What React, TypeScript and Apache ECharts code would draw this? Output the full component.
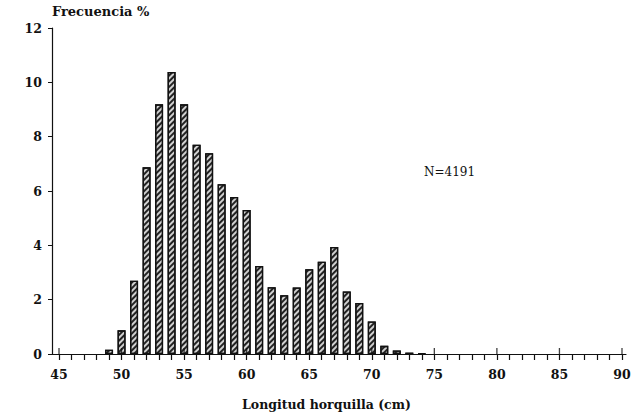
import React, { useEffect, useRef } from "react";
import * as echarts from "echarts";

const lengths = [49, 50, 51, 52, 53, 54, 55, 56, 57, 58, 59, 60, 61, 62, 63, 64, 65, 66, 67, 68, 69, 70, 71, 72, 73, 74];
const freq = [0.16, 0.87, 2.7, 6.87, 9.19, 10.38, 9.19, 7.7, 7.39, 6.25, 5.78, 5.3, 3.24, 2.46, 2.16, 2.45, 3.12, 3.4, 3.94, 2.3, 1.88, 1.2, 0.3, 0.13, 0.05, 0.02];
const xMajor = [45, 50, 55, 60, 65, 70, 75, 80, 85, 90];
const xMinor = Array.from({ length: 46 }, (_, i) => 45 + i);
const yTicks = [0, 2, 4, 6, 8, 10, 12];

const FONT = "DejaVu Serif";

export default function App() {
  const ref = useRef<HTMLDivElement>(null);
  useEffect(() => {
    const chart = echarts.init(ref.current!, null, { renderer: "svg" });
    chart.setOption({
      animation: false,
      backgroundColor: "#fff",
      grid: { left: 52, right: 14, top: 28, bottom: 62 },
      graphic: [
        {
          type: "text",
          left: 52,
          top: 5,
          style: { text: "Frecuencia %", font: `bold 13px "${FONT}"`, fill: "#111" },
        },
        {
          type: "text",
          left: 424,
          top: 166,
          style: { text: "N=4191", font: `12px "${FONT}"`, fill: "#111" },
        },
        {
          type: "text",
          left: 242,
          top: 398,
          style: { text: "Longitud horquilla (cm)", font: `bold 12.5px "${FONT}"`, fill: "#111" },
        },
      ],
      xAxis: {
        type: "value",
        min: 44.44,
        max: 90.32,
        axisLine: { show: true, lineStyle: { color: "#111", width: 1.2 } },
        axisTick: { show: true, customValues: xMinor, length: 6, inside: false, lineStyle: { color: "#111", width: 1.2 } },
        axisLabel: {
          customValues: xMajor,
          fontFamily: FONT,
          fontWeight: "bold",
          fontSize: 12.5,
          color: "#111",
          margin: 14,
        },
        splitLine: { show: false },
      },
      yAxis: {
        type: "value",
        min: 0,
        max: 12,
        interval: 2,
        axisLine: { show: true, lineStyle: { color: "#111", width: 1.2 } },
        axisTick: { show: true, length: 4, lineStyle: { color: "#111" } },
        axisLabel: {
          fontFamily: FONT,
          fontWeight: "bold",
          fontSize: 12.5,
          color: "#111",
          margin: 10,
          formatter: (v: number) => (yTicks.includes(v) ? String(v) : ""),
        },
        splitLine: { show: false },
      },
      series: [
        {
          type: "bar",
          data: lengths.map((x, i) => [x, freq[i]]),
          barWidth: 8,
          itemStyle: {
            color: "#d0d0d0",
            borderColor: "#111",
            borderWidth: 1.3,
            decal: {
              symbol: "rect",
              symbolSize: 1,
              dashArrayX: [1, 0],
              dashArrayY: [1.5, 1.5],
              rotation: -Math.PI / 4,
              color: "#222",
            },
          },
        },
        {
          type: "scatter",
          data: xMajor.map((x) => [x, 0]),
          symbol: "rect",
          symbolSize: [1.3, 6],
          symbolOffset: [0, -3],
          itemStyle: { color: "#111" },
          silent: true,
          z: 5,
        },
      ],
    });
    return () => chart.dispose();
  }, []);
  return <div ref={ref} style={{ width: 640, height: 416, position: "absolute", left: 0, top: 0 }} />;
}
